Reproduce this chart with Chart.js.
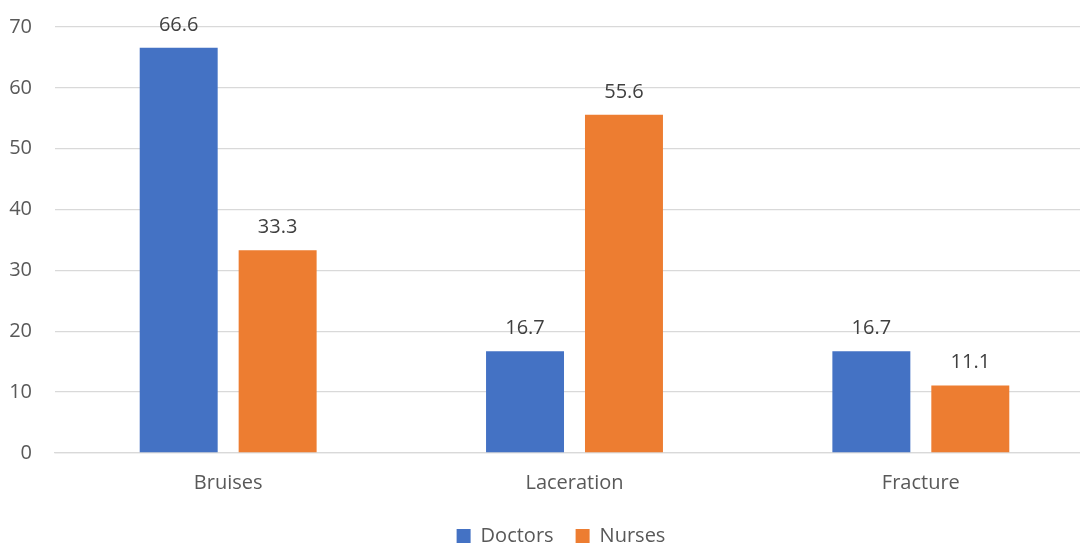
<!DOCTYPE html>
<html>
<head>
<meta charset="utf-8">
<script src="https://cdn.jsdelivr.net/npm/chart.js@4.4.1/dist/chart.umd.min.js"></script>
<style>
  html, body { margin: 0; padding: 0; background: #ffffff; overflow: hidden; }
  #wrap { width: 1094px; height: 546px; }
</style>
</head>
<body>
<div id="wrap"><canvas id="c" width="1094" height="546"></canvas></div>
<script>
const categories = ['Bruises', 'Laceration', 'Fracture'];
const doctors = [66.6, 16.7, 16.7];
const nurses = [33.3, 55.6, 11.1];
const yTicks = [0, 10, 20, 30, 40, 50, 60, 70];

const FONT = "'Open Sans', 'Liberation Sans', sans-serif";

// Writes each bar's value just above its top edge
const valueLabels = {
  id: 'valueLabels',
  afterDatasetsDraw(chart) {
    const ctx = chart.ctx;
    ctx.save();
    ctx.font = '20px ' + FONT;
    ctx.fillStyle = '#404040';
    ctx.textAlign = 'center';
    ctx.textBaseline = 'alphabetic';
    chart.data.datasets.forEach((ds, i) => {
      chart.getDatasetMeta(i).data.forEach((bar, j) => {
        ctx.fillText(ds.data[j].toFixed(1), bar.x, bar.y - 17);
      });
    });
    ctx.restore();
  }
};

// Nudges the legend row a little to the right of the canvas centre
const legendShift = {
  id: 'legendShift',
  afterLayout(chart) {
    const lg = chart.legend;
    if (lg) { lg.left += 14; lg.right += 14; }
  }
};

new Chart(document.getElementById('c'), {
  type: 'bar',
  data: {
    labels: categories,
    datasets: [
      { label: 'Doctors', data: doctors, backgroundColor: '#4472c4' },
      { label: 'Nurses', data: nurses, backgroundColor: '#ed7d31' }
    ]
  },
  options: {
    responsive: false,
    animation: false,
    layout: { padding: { top: 27, left: 0, right: 0, bottom: -10 } },
    datasets: { bar: { categoryPercentage: 0.5714, barPercentage: 0.788 } },
    plugins: {
      legend: {
        position: 'bottom',
        labels: {
          font: { family: FONT, size: 20 },
          color: '#595959',
          boxWidth: 14,
          boxHeight: 14,
          padding: 22
        }
      },
      tooltip: { enabled: false }
    },
    scales: {
      x: {
        grid: { display: false, drawTicks: false },
        border: { color: '#d9d9d9', width: 1.3 },
        ticks: { font: { family: FONT, size: 20 }, color: '#595959', padding: 18 },
        afterFit(scale) { scale.height = 51; }
      },
      y: {
        min: 0,
        max: 70,
        afterBuildTicks(scale) { scale.ticks = yTicks.map(v => ({ value: v })); },
        grid: { color: '#d9d9d9', lineWidth: 1.3, drawTicks: false },
        border: { display: false },
        ticks: { font: { family: FONT, size: 20 }, color: '#595959', padding: 23 },
        afterFit(scale) {
          scale.width = 55;
          scale.paddingTop = 0;
          scale.paddingBottom = 0;
        }
      }
    }
  },
  plugins: [valueLabels, legendShift]
});
</script>
</body>
</html>
